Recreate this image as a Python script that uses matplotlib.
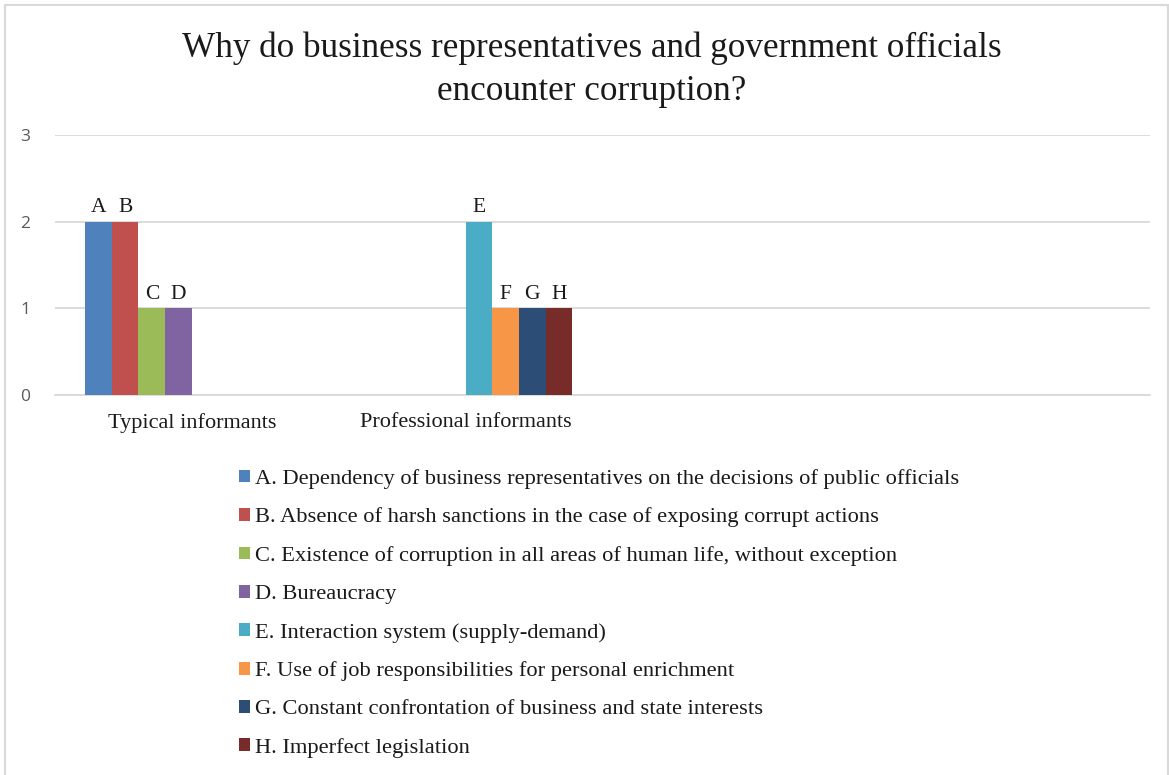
import numpy as np
import matplotlib
matplotlib.use("Agg")
import matplotlib.pyplot as plt
from matplotlib.patches import Rectangle, Patch

categories = ["Typical informants", "Professional informants", "", ""]
series_letters = ["A", "B", "C", "D", "E", "F", "G", "H"]
series_names = [
    "A. Dependency of business representatives on the decisions of public officials",
    "B. Absence of harsh sanctions in the case of exposing corrupt actions",
    "C. Existence of corruption in all areas of human life, without exception",
    "D. Bureaucracy",
    "E. Interaction system (supply-demand)",
    "F. Use of job responsibilities for personal enrichment",
    "G. Constant confrontation of business and state interests",
    "H. Imperfect legislation",
]
# one list per series, values per category
values = [
    [2, 0, 0, 0],
    [2, 0, 0, 0],
    [1, 0, 0, 0],
    [1, 0, 0, 0],
    [0, 2, 0, 0],
    [0, 1, 0, 0],
    [0, 1, 0, 0],
    [0, 1, 0, 0],
]
colors = ["#4f81bd", "#c0504d", "#9bbb59", "#8064a2",
          "#4bacc6", "#f79646", "#2c4d75", "#772c2a"]
title = "Why do business representatives and government officials\nencounter corruption?"
yticks = [0, 1, 2, 3]

W, H = 1169, 775
fig = plt.figure(figsize=(W / 100, H / 100), dpi=100)
fig.patch.set_facecolor("white")

serif = ["Liberation Serif", "DejaVu Serif"]
sans = ["Open Sans", "Liberation Sans", "DejaVu Sans"]

# chart frame
fig.patches.append(Rectangle((5 / W, -0.05), (1163 / W), 770 / H + 0.05,
                             transform=fig.transFigure, fill=False,
                             edgecolor="#d9d9d9", linewidth=1.5))

ax = fig.add_axes([55 / W, (H - 395) / H, (1150 - 55) / W, (395 - 135) / H])
ax.set_xlim(-0.5, len(categories) - 0.5)
ax.set_ylim(0, 3)

n = len(series_letters)
bw = 0.0975
x = np.arange(len(categories))
for i in range(n):
    off = (i - (n - 1) / 2) * bw
    vals = values[i]
    ax.bar(x + off, vals, width=bw, color=colors[i], zorder=3, linewidth=0)
    for xi, v in zip(x, vals):
        if v > 0:
            ax.text(xi + off, v + 0.05, series_letters[i], ha="center", va="bottom",
                    fontsize=15.5, family=serif, color="#1a1a1a")

ax.set_yticks(yticks)
ax.set_yticklabels([str(t) for t in yticks], family=sans, fontsize=12.5, color="#595959")
ax.grid(axis="y", color="#d9d9d9", linewidth=1.3, zorder=0)
ax.set_xticks(x)
ax.set_xticklabels(categories, family=serif, fontsize=16, color="#1a1a1a")
ax.tick_params(axis="both", length=0)
ax.tick_params(axis="y", pad=18)
ax.tick_params(axis="x", pad=13)
for s in ["top", "right", "left"]:
    ax.spines[s].set_visible(False)
ax.spines["bottom"].set_color("#d9d9d9")
ax.spines["bottom"].set_linewidth(1.3)

fig.text(592 / W, 1 - 70 / H, title, ha="center", va="center", family=serif,
         fontsize=25.3, color="#1a1a1a", linespacing=1.4)

handles = [Patch(facecolor=c, edgecolor="none") for c in colors]
leg = fig.legend(handles, series_names, loc="upper left",
                 bbox_to_anchor=(239 / W, 1 - 469 / H), frameon=False,
                 prop={"family": serif, "size": 16.2}, handlelength=0.5,
                 handleheight=0.5, handletextpad=0.2, labelspacing=0.83,
                 borderpad=0, borderaxespad=0)
for t in leg.get_texts():
    t.set_color("#1a1a1a")

fig.savefig("out.png", dpi=100)
